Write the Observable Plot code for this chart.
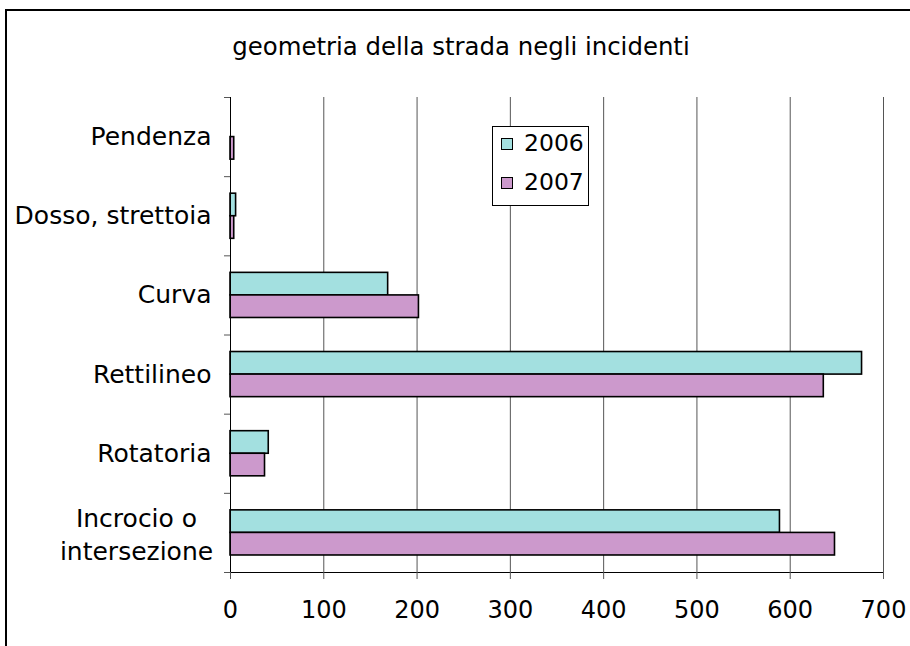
<!DOCTYPE html>
<html>
<head>
<meta charset="utf-8">
<script src="https://cdn.jsdelivr.net/npm/d3@7"></script>
<script src="https://cdn.jsdelivr.net/npm/@observablehq/plot@0.6"></script>
<style>
  html, body { margin: 0; padding: 0; background: #fff; }
  body { width: 910px; height: 646px; overflow: hidden; position: relative; font-family: "DejaVu Sans", Verdana, sans-serif; }
  #frame { position: absolute; left: 5px; top: 9px; width: 1000px; height: 1000px; border-left: 2px solid #000; border-top: 2px solid #000; }
  #title { position: absolute; left: 6px; width: 910px; top: 35px; text-align: center; font-size: 24.4px; line-height: 24px; color: #000; }
  #chart { position: absolute; left: 0; top: 80px; }
  #legend { position: absolute; left: 492px; top: 126px; width: 97px; height: 80px; box-sizing: border-box; border: 1px solid #000; background: #fff; }
  .item { position: absolute; left: 8px; display: flex; align-items: center; font-size: 23.5px; line-height: 23px; color: #000; }
  .sw { width: 10px; height: 10px; border: 1px solid #000; margin-right: 11px; box-sizing: content-box; }
</style>
</head>
<body>
<div id="frame"></div>
<div id="title">geometria della strada negli incidenti</div>
<div id="chart"></div>
<div id="legend"></div>
<script>
// ---- data ----
const categories = ["Pendenza", "Dosso, strettoia", "Curva", "Rettilineo", "Rotatoria", "Incrocio o\nintersezione"];
const years = ["2006", "2007"];
const values2006 = [0, 6, 169, 677, 41, 589];
const values2007 = [4, 4, 202, 636, 37, 648];
const xTicks = [0, 100, 200, 300, 400, 500, 600, 700];
const colors = ["#a3e0e0", "#cc99cc"];

// ---- styling ----
const groupGap = 0.215;   // fraction of a category band left empty above the pair
const barFrac = 0.285;    // fraction of a category band per bar

const series = [values2006, values2007];
const data = categories.flatMap((c, i) => series.map((vals, s) => ({category: c, index: i, s, year: years[s], value: vals[i]})));
const labels = categories.map((c, i) => ({text: c, index: i}));
const single = labels.filter(d => !d.text.includes("\n"));
const multi = labels.filter(d => d.text.includes("\n"));

const chart = Plot.plot({
  width: 910,
  height: 566,
  marginTop: 17,
  marginBottom: 74,
  marginLeft: 230,
  marginRight: 27,
  style: {fontFamily: "'DejaVu Sans', Verdana, sans-serif", color: "#000", background: "transparent", overflow: "visible"},
  x: {domain: [0, 700], label: null},
  y: {domain: [0, categories.length], reverse: true, label: null},
  color: {domain: years, range: colors},
  marks: [
    Plot.ruleX(xTicks.slice(1), {stroke: "#555", strokeWidth: 1}),
    Plot.rect(data, {
      x1: 0,
      x2: "value",
      y1: d => d.index + groupGap + d.s * barFrac,
      y2: d => d.index + groupGap + (d.s + 1) * barFrac,
      fill: "year",
      stroke: "#000",
      strokeWidth: 1.6
    }),
    Plot.ruleX([0], {stroke: "#000", strokeWidth: 1}),
    Plot.ruleY([categories.length], {stroke: "#000", strokeWidth: 1}),
    Plot.axisY({ticks: d3.range(categories.length + 1), tickFormat: () => "", tickSize: 6, stroke: "#555"}),
    Plot.axisX({ticks: xTicks, tickSize: 7, tickPadding: 21, fontSize: 24, stroke: "#555", label: null}),
    Plot.text(single, {x: 0, y: d => d.index + 0.5, text: "text", textAnchor: "end", dx: -19, fontSize: 25, fill: "#000"}),
    Plot.text(multi, {x: 0, y: d => d.index + 0.5, text: "text", textAnchor: "middle", dx: -94, fontSize: 25, lineHeight: 1.32, fill: "#000"})
  ]
});
document.getElementById("chart").appendChild(chart);

// ---- legend ----
const legend = d3.select("#legend");
years.forEach((y, k) => {
  const item = legend.append("div").attr("class", "item").style("top", (5 + k * 39) + "px");
  item.append("div").attr("class", "sw").style("background", colors[k]);
  item.append("span").text(y);
});
</script>
</body>
</html>
